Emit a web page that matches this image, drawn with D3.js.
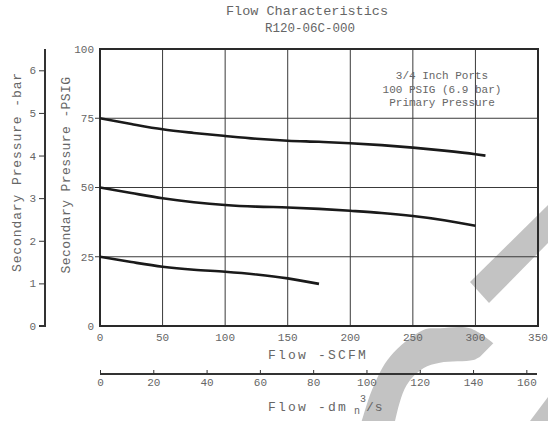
<!DOCTYPE html>
<html><head><meta charset="utf-8">
<script src="https://cdn.jsdelivr.net/npm/d3@7"></script>
<style>
html,body{margin:0;padding:0;background:#fff;}
svg text{font-family:"Liberation Mono","DejaVu Sans Mono",monospace;fill:#666;}
</style></head>
<body><svg id="c" width="548" height="421"></svg>
<script>
// ---- data ----
const title = "Flow Characteristics";
const subtitle = "R120-06C-000";
const noteLines = ["3/4 Inch Ports", "100 PSIG (6.9 bar)", "Primary Pressure"];
const scfmTicks = [0, 50, 100, 150, 200, 250, 300, 350];
const psigTicks = [0, 25, 50, 75, 100];
const barTicks = [0, 1, 2, 3, 4, 5, 6];
const dmTicks = [0, 20, 40, 60, 80, 100, 120, 140, 160];

const flow75 = [0, 25, 50, 75, 100, 125, 150, 175, 200, 225, 250, 275, 300, 308];
const psig75 = [75, 72.9, 71.0, 69.7, 68.6, 67.6, 66.9, 66.5, 66.0, 65.3, 64.4, 63.3, 62.0, 61.5];
const flow50 = [0, 25, 50, 75, 100, 125, 150, 175, 200, 225, 250, 275, 300];
const psig50 = [50, 48.0, 46.1, 44.7, 43.7, 43.1, 42.8, 42.3, 41.6, 40.8, 39.7, 38.2, 36.2];
const flow25 = [0, 25, 50, 75, 100, 125, 150, 175];
const psig25 = [25, 23.1, 21.4, 20.3, 19.6, 18.6, 17.2, 15.2];

// ---- layout ----
const svg = d3.select("#c");
const L = 100, R = 538, T = 49, B = 326;
const x = d3.scaleLinear().domain([0, 350]).range([L, R]);
const y = d3.scaleLinear().domain([0, 100]).range([B, T]);
const yBar = d3.scaleLinear().domain([0, 6.5]).range([B, T]);
const xDm = d3.scaleLinear().domain([0, 164]).range([L, 537]);

// watermark (background)
const wm = svg.append("g").attr("fill", "#c3c3c3");
wm.append("polygon").attr("points", "470,282 548,205 548,243 489,303");
wm.append("polygon").attr("points", "530,421 548,397 548,421");
const outer = [[356,440],[361.7,421],[373.3,386.7],[390,356.7],[423.3,330],[440,328.3],[470,328.3],[493.3,343.3]];
const inner = [[480,356.7],[473.3,360],[440,362.7],[423.3,368.3],[406.7,385],[395,421],[392,440]];
wm.append("path").attr("d",
  d3.line().curve(d3.curveCatmullRom)(outer) + "L" +
  d3.line().curve(d3.curveCatmullRom)(inner).slice(1) + "Z");

// gridlines
const grid = svg.append("g").attr("stroke", "#3a3a3a").attr("stroke-width", 1);
scfmTicks.slice(1, -1).forEach(v => grid.append("line")
  .attr("x1", x(v)).attr("x2", x(v)).attr("y1", T).attr("y2", B));
psigTicks.slice(1, -1).forEach(v => grid.append("line")
  .attr("x1", L - 5).attr("x2", R).attr("y1", y(v)).attr("y2", y(v)));

// plot border
svg.append("rect").attr("x", L).attr("y", T).attr("width", R - L).attr("height", B - T)
  .attr("fill", "none").attr("stroke", "#2a2a2a").attr("stroke-width", 2);

// curves
const line = d3.line().curve(d3.curveMonotoneX);
[[flow75, psig75], [flow50, psig50], [flow25, psig25]].forEach(([fx, fy]) => {
  svg.append("path")
    .attr("d", line(fx.map((f, i) => [x(f), y(fy[i])])))
    .attr("fill", "none").attr("stroke", "#1a1a1a").attr("stroke-width", 2.6)
    .attr("stroke-linecap", "butt");
});

// PSIG tick labels
svg.append("g").selectAll("text").data(psigTicks).join("text")
  .attr("x", 94).attr("y", d => y(d)).attr("dy", "0.35em")
  .attr("text-anchor", "end").attr("font-size", 11).attr("fill", "#777").text(d => d);

// SCFM tick labels
svg.append("g").selectAll("text").data(scfmTicks).join("text")
  .attr("x", d => x(d)).attr("y", 337).attr("dy", "0.35em")
  .attr("text-anchor", "middle").attr("font-size", 11).attr("fill", "#777").text(d => d);

// bar axis
const gb = svg.append("g").attr("transform", "translate(45,0)");
gb.call(d3.axisLeft(yBar).tickValues(barTicks).tickSize(6).tickPadding(3).tickFormat(d3.format("d")));
gb.select(".domain").attr("d", `M0,${T}V${B}H-6`).attr("stroke", "#333").attr("stroke-width", 2);
gb.selectAll(".tick line").attr("stroke", "#333");
gb.selectAll(".tick text").attr("font-size", 11).attr("font-family", "Liberation Mono").attr("fill", "#777");

// dm3/s axis
const gd = svg.append("g").attr("transform", "translate(0,374)");
gd.call(d3.axisTop(xDm).tickValues(dmTicks).tickSize(4).tickFormat(d3.format("d")));
gd.select(".domain").attr("d", `M${L},0H537`).attr("stroke", "#333").attr("stroke-width", 2);
gd.selectAll(".tick line").attr("stroke", "#333");
gd.selectAll(".tick text").attr("y", 8).attr("dy", "0.35em").attr("font-size", 11)
  .attr("font-family", "Liberation Mono").attr("fill", "#777");

// titles
svg.append("text").attr("x", 307).attr("y", 15).attr("text-anchor", "middle")
  .attr("font-size", 13.5).text(title);
svg.append("text").attr("x", 310).attr("y", 32).attr("text-anchor", "middle")
  .attr("font-size", 12.5).text(subtitle);

// note
svg.append("g").selectAll("text").data(noteLines).join("text")
  .attr("x", 442).attr("y", (d, i) => 79 + i * 13.5).attr("text-anchor", "middle")
  .attr("font-size", 11).text(d => d);

// axis titles
svg.append("text").attr("transform", "translate(70,175) rotate(-90)")
  .attr("text-anchor", "middle").attr("font-size", 13).attr("letter-spacing", 0.4)
  .text("Secondary Pressure -PSIG");
svg.append("text").attr("transform", "translate(21,172) rotate(-90)")
  .attr("text-anchor", "middle").attr("font-size", 13).attr("letter-spacing", 0.9)
  .text("Secondary Pressure -bar");
svg.append("text").attr("x", 318).attr("y", 359).attr("text-anchor", "middle")
  .attr("font-size", 13).attr("letter-spacing", 2.2).text("Flow -SCFM");
const t2 = svg.append("text").attr("x", 268).attr("y", 411).attr("font-size", 13);
t2.append("tspan").attr("letter-spacing", 2.2).text("Flow -dm");
t2.append("tspan").attr("font-size", 10).attr("dx", 6).attr("dy", 3).text("n");
t2.append("tspan").attr("font-size", 10).attr("dx", 0).attr("dy", -12).text("3");
t2.append("tspan").attr("dy", 9).attr("letter-spacing", 1).text("/s");
</script></body></html>
